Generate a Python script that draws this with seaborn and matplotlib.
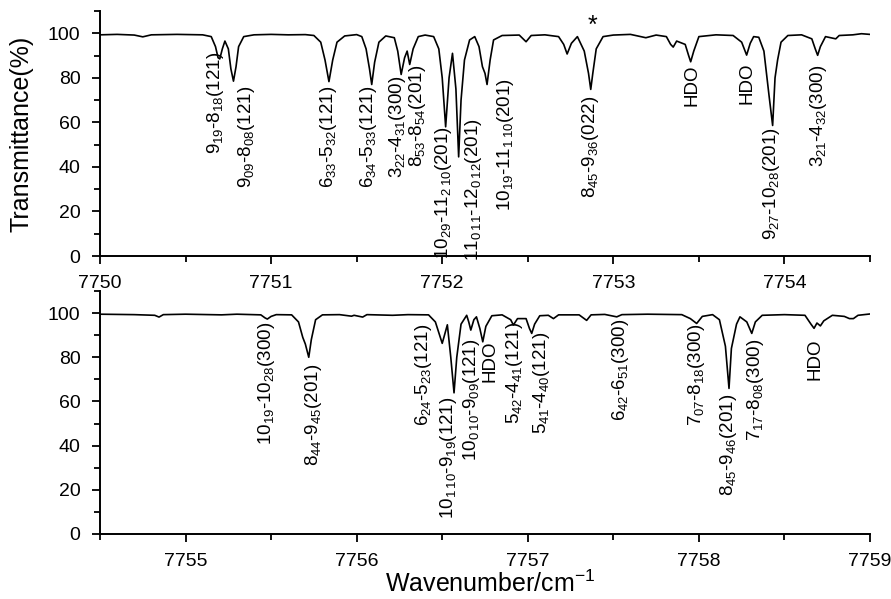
import numpy as np
import pandas as pd
import matplotlib
matplotlib.use("Agg")
import matplotlib.pyplot as plt
from matplotlib.ticker import MultipleLocator
import seaborn as sns

# ---------------- data ----------------
top_wn = [7750.00, 7750.10, 7750.20, 7750.25, 7750.30, 7750.45, 7750.60, 7750.65, 7750.675, 7750.69,
          7750.70, 7750.715, 7750.73, 7750.75, 7750.765, 7750.78, 7750.795, 7750.81, 7750.84, 7750.90,
          7751.00, 7751.10, 7751.20, 7751.25, 7751.29, 7751.315, 7751.338, 7751.36, 7751.385, 7751.43,
          7751.50, 7751.53, 7751.555, 7751.575, 7751.588, 7751.605, 7751.63, 7751.67, 7751.72, 7751.74,
          7751.76, 7751.78, 7751.795, 7751.81, 7751.83, 7751.86, 7751.90, 7751.95, 7751.98, 7752.00,
          7752.02, 7752.04, 7752.06, 7752.08, 7752.096, 7752.11, 7752.13, 7752.16, 7752.19, 7752.215,
          7752.235, 7752.25, 7752.262, 7752.28, 7752.30, 7752.35, 7752.45, 7752.49, 7752.52, 7752.60,
          7752.68, 7752.71, 7752.73, 7752.755, 7752.79, 7752.83, 7752.855, 7752.868, 7752.88, 7752.90,
          7752.94, 7753.00, 7753.10, 7753.19, 7753.25, 7753.31, 7753.335, 7753.35, 7753.37, 7753.42,
          7753.44, 7753.452, 7753.47, 7753.50, 7753.60, 7753.70, 7753.75, 7753.779, 7753.80, 7753.82,
          7753.85, 7753.88, 7753.91, 7753.931, 7753.945, 7753.96, 7753.98, 7754.02, 7754.10, 7754.16,
          7754.18, 7754.194, 7754.21, 7754.24, 7754.30, 7754.32, 7754.40, 7754.45, 7754.50]
top_tr = [99.3, 99.5, 99.2, 98.4, 99.3, 99.5, 99.3, 98.5, 94.0, 89.0,
          88.5, 93.0, 96.5, 93.0, 84.0, 78.5, 85.0, 94.0, 98.5, 99.3,
          99.5, 99.3, 99.4, 99.0, 96.0, 88.0, 78.3, 88.0, 96.0, 98.8,
          99.4, 98.5, 93.0, 84.0, 77.0, 87.0, 96.0, 98.8, 98.0, 92.0,
          81.5, 89.0, 92.0, 86.0, 93.0, 98.5, 99.2, 98.5, 93.0, 80.0,
          58.0, 80.0, 91.0, 75.0, 44.5, 70.0, 88.0, 97.0, 98.5, 94.0,
          85.0, 82.0, 77.0, 88.0, 97.0, 99.0, 99.2, 96.2, 99.0, 99.3,
          98.5, 95.0, 90.7, 95.5, 98.5, 92.0, 82.0, 74.8, 82.0, 93.0,
          98.5, 99.2, 99.5, 98.0, 99.2, 98.5, 95.0, 93.8, 96.5, 95.0,
          90.0, 87.2, 92.0, 98.5, 99.3, 99.0, 96.0, 90.2, 95.5, 98.5,
          98.2, 92.0, 72.0, 58.6, 80.0, 88.0, 96.0, 99.0, 99.3, 97.5,
          93.0, 90.1, 94.0, 98.5, 97.5, 99.0, 99.3, 99.8, 99.5]

bot_wn = [7754.50, 7754.70, 7754.82, 7754.845, 7754.87, 7755.00, 7755.21, 7755.30, 7755.44, 7755.465,
          7755.478, 7755.50, 7755.53, 7755.62, 7755.66, 7755.685, 7755.70, 7755.72, 7755.735, 7755.76,
          7755.80, 7755.90, 7755.97, 7755.985, 7756.035, 7756.06, 7756.21, 7756.30, 7756.42, 7756.46,
          7756.50, 7756.53, 7756.55, 7756.569, 7756.585, 7756.61, 7756.643, 7756.655, 7756.667, 7756.685,
          7756.70, 7756.72, 7756.737, 7756.755, 7756.79, 7756.85, 7756.90, 7756.916, 7756.94, 7756.99,
          7757.01, 7757.023, 7757.04, 7757.07, 7757.12, 7757.15, 7757.18, 7757.30, 7757.344, 7757.37,
          7757.45, 7757.52, 7757.55, 7757.70, 7757.90, 7757.95, 7757.987, 7758.02, 7758.08, 7758.12,
          7758.155, 7758.176, 7758.19, 7758.22, 7758.24, 7758.28, 7758.309, 7758.33, 7758.37, 7758.50,
          7758.62, 7758.655, 7758.673, 7758.69, 7758.71, 7758.73, 7758.78, 7758.85, 7758.88, 7758.903,
          7758.93, 7759.00]
bot_tr = [99.5, 99.3, 99.0, 98.2, 99.3, 99.5, 99.2, 99.5, 99.2, 97.8,
          97.3, 98.5, 99.3, 99.2, 96.0, 89.0, 86.0, 80.0, 88.0, 97.0,
          99.2, 99.3, 98.6, 99.0, 98.2, 99.3, 99.0, 99.3, 99.2, 96.0,
          86.3, 94.7, 80.0, 63.9, 80.0, 95.0, 99.0, 96.0, 92.3, 97.0,
          98.3, 93.0, 87.0, 94.0, 98.8, 99.2, 97.0, 94.6, 97.5, 97.5,
          93.0, 90.8, 95.0, 98.8, 99.0, 97.5, 99.2, 99.2, 96.7, 99.2,
          99.4, 98.3, 99.3, 99.5, 99.3, 97.5, 95.3, 98.5, 99.3, 97.0,
          85.0, 65.9, 84.0, 95.0, 98.3, 96.0, 90.8, 96.0, 99.0, 99.3,
          99.0, 95.0, 93.1, 95.5, 94.2, 96.5, 99.0, 98.5, 97.5, 97.5,
          99.0, 99.6]

top_labels = [r"9$_{19}$-8$_{18}$(121)", r"9$_{09}$-8$_{08}$(121)", r"6$_{33}$-5$_{32}$(121)",
              r"6$_{34}$-5$_{33}$(121)", r"3$_{22}$-4$_{31}$(300)", r"8$_{53}$-8$_{54}$(201)",
              r"10$_{29}$-11$_{2\:10}$(201)", r"11$_{0\:11}$-12$_{0\:12}$(201)",
              r"10$_{19}$-11$_{1\:10}$(201)", r"8$_{45}$-9$_{36}$(022)", "HDO", "HDO",
              r"9$_{27}$-10$_{28}$(201)", r"3$_{21}$-4$_{32}$(300)"]
top_label_x = [7750.675, 7750.857, 7751.334, 7751.568, 7751.738, 7751.855, 7752.006, 7752.18,
               7752.367, 7752.864, 7753.458, 7753.78, 7753.926, 7754.198]
top_label_y = [91.5, 76.6, 76.6, 76.6, 81.0, 86.0, 58.5, 62.0, 80.0, 71.8, 86.0, 87.0, 57.6, 86.0]

bot_labels = [r"10$_{19}$-10$_{28}$(300)", r"8$_{44}$-9$_{45}$(201)", r"6$_{24}$-5$_{23}$(121)",
              r"10$_{1\:10}$-9$_{19}$(121)", r"10$_{0\:10}$-9$_{09}$(121)", "HDO",
              r"5$_{42}$-4$_{41}$(121)", r"5$_{41}$-4$_{40}$(121)", r"6$_{42}$-6$_{51}$(300)",
              r"7$_{07}$-8$_{18}$(300)", r"8$_{45}$-9$_{46}$(201)", r"7$_{17}$-8$_{08}$(300)", "HDO"]
bot_label_x = [7755.474, 7755.747, 7756.39, 7756.536, 7756.672, 7756.78, 7756.925, 7757.081,
               7757.54, 7757.987, 7758.172, 7758.328, 7758.68]
bot_label_y = [96.0, 77.2, 95.3, 62.0, 88.5, 87.5, 96.0, 91.5, 97.6, 95.3, 63.7, 88.5, 88.5]

star_x = 7752.88
star_y = 103.5

# ---------------- style ----------------
sns.set_style("ticks")
plt.rcParams["font.family"] = ["Liberation Sans", "DejaVu Sans"]
plt.rcParams["mathtext.fontset"] = "custom"
plt.rcParams["mathtext.rm"] = "Liberation Sans"
plt.rcParams["mathtext.it"] = "Liberation Sans:italic"
plt.rcParams["mathtext.default"] = "regular"
for key in ("text.color", "axes.labelcolor", "xtick.color", "ytick.color", "axes.edgecolor"):
    plt.rcParams[key] = "black"

FS = 14
LFS = 13.5
fig = plt.figure(figsize=(8.91, 5.99), dpi=100)
ax_top = fig.add_axes([100 / 891, 1 - 256 / 599, 770 / 891, 245 / 599])
ax_bot = fig.add_axes([100 / 891, 1 - 534 / 599, 770 / 891, 243 / 599])

top_df = pd.DataFrame({"wn": top_wn, "T": top_tr})
bot_df = pd.DataFrame({"wn": bot_wn, "T": bot_tr})
sns.lineplot(data=top_df, x="wn", y="T", ax=ax_top, color="black", lw=1.2, estimator=None)
sns.lineplot(data=bot_df, x="wn", y="T", ax=ax_bot, color="black", lw=1.2, estimator=None)

for ax, xl in ((ax_top, (7750, 7754.5)), (ax_bot, (7754.5, 7759))):
    ax.set_xlim(*xl)
    ax.set_ylim(0, 110)
    ax.set_xlabel("")
    ax.set_ylabel("")
    ax.xaxis.set_major_locator(MultipleLocator(1))
    ax.xaxis.set_minor_locator(MultipleLocator(0.5))
    ax.yaxis.set_minor_locator(MultipleLocator(10))
    ax.set_yticks([0, 20, 40, 60, 80, 100])
    ax.xaxis.set_major_formatter(matplotlib.ticker.FormatStrFormatter("%d"))
    ax.tick_params(axis="x", which="major", direction="out", length=6, width=1.3, labelsize=FS, pad=8)
    ax.tick_params(axis="y", which="major", direction="out", length=6, width=1.3, labelsize=FS, pad=8)
    ax.tick_params(which="minor", direction="out", length=4, width=1.3)
    for s in ("top", "right"):
        ax.spines[s].set_visible(False)
    for s in ("left", "bottom"):
        ax.spines[s].set_linewidth(1.4)
    ax.grid(False)

for t, x, y in zip(top_labels, top_label_x, top_label_y):
    ax_top.text(x, y, t, rotation=90, ha="center", va="top", fontsize=LFS)
for t, x, y in zip(bot_labels, bot_label_x, bot_label_y):
    ax_bot.text(x, y, t, rotation=90, ha="center", va="top", fontsize=LFS)
ax_top.text(star_x, star_y, "*", ha="center", va="center", fontsize=18)

fig.text(22 / 891, 1 - 134 / 599, "Transmittance(%)", rotation=90, ha="center", va="center", fontsize=18)
fig.text(490 / 891, 1 - 592 / 599, r"Wavenumber/cm$^{-1}$", ha="center", va="baseline", fontsize=18)

fig.savefig("out.png", dpi=100)
